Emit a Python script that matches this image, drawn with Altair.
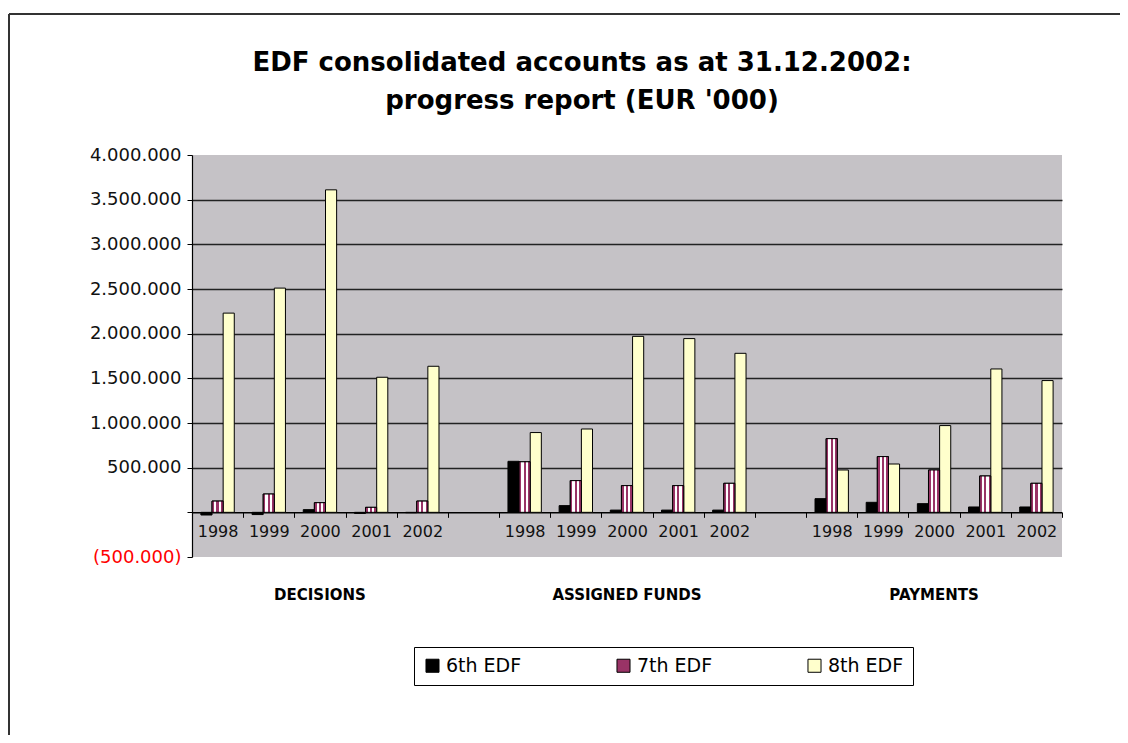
import altair as alt
import pandas as pd

groups = ["DECISIONS", "ASSIGNED FUNDS", "PAYMENTS"]
years = ["1998", "1999", "2000", "2001", "2002"]
series = ["6th EDF", "7th EDF", "8th EDF"]

decisions_6th = [-30000, -25000, 30000, -12000, -4000]
decisions_7th = [126000, 205000, 108000, 56000, 126000]
decisions_8th = [2230000, 2510000, 3610000, 1512000, 1635000]

assigned_6th = [571000, 75000, 25000, 25000, 25000]
assigned_7th = [566000, 355000, 299000, 299000, 325000]
assigned_8th = [893000, 933000, 1970000, 1945000, 1780000]

payments_6th = [153000, 112000, 97000, 60000, 60000]
payments_7th = [825000, 624000, 474000, 407000, 325000]
payments_8th = [474000, 541000, 971000, 1605000, 1475000]

y_ticks = [-500000, 0, 500000, 1000000, 1500000, 2000000, 2500000, 3000000, 3500000, 4000000]

group_values = [
    [decisions_6th, decisions_7th, decisions_8th],
    [assigned_6th, assigned_7th, assigned_8th],
    [payments_6th, payments_7th, payments_8th],
]

n_per_group = len(years) + 1  # one empty slot between groups
n_slots = len(groups) * n_per_group - 1

rows = []
for gi, g in enumerate(groups):
    for si, s in enumerate(series):
        for yi, yr in enumerate(years):
            rows.append({
                "group": g,
                "year": yr,
                "series": s,
                "value": group_values[gi][si][yi],
                "slot": gi * n_per_group + yi,
            })
df = pd.DataFrame(rows)

slot_labels = [""] * n_slots
for gi in range(len(groups)):
    for yi, yr in enumerate(years):
        slot_labels[gi * n_per_group + yi] = yr
label_js = "[" + ",".join("'" + s + "'" for s in slot_labels) + "]"

grp_df = pd.DataFrame({
    "group": groups,
    "slot": [gi * n_per_group + len(years) // 2 for gi in range(len(groups))],
})

W, H = 870, 402
FONT = "DejaVu Sans"

x_enc = alt.X(
    "slot:O",
    scale=alt.Scale(domain=list(range(n_slots)), paddingInner=0, paddingOuter=0),
    axis=alt.Axis(
        title=None,
        offset=-H * 0.5 / 4.5,
        labelExpr=label_js + "[datum.value]",
        labelAngle=0,
        labelFont=FONT,
        labelFontSize=16,
        labelColor="#111111",
        labelPadding=6,
        tickBand="extent",
        ticks=True,
        tickSize=5,
        tickColor="black",
        domainColor="black",
        domainWidth=1.5,
        grid=False,
    ),
)

y_enc = alt.Y(
    "value:Q",
    scale=alt.Scale(domain=[-500000, 4000000], nice=False, zero=False),
    axis=alt.Axis(
        title=None,
        values=y_ticks,
        labelExpr="datum.value == 0 ? '' : (datum.value < 0 ? '(' + replace(format(-datum.value, ','), regexp(',', 'g'), '.') + ')' : replace(format(datum.value, ','), regexp(',', 'g'), '.'))",
        labelColor={"expr": "datum.value < 0 ? '#ff0000' : '#111111'"},
        labelFont=FONT,
        labelFontSize=18,
        labelPadding=6,
        tickSize=5,
        tickColor="black",
        domainColor="black",
        domainWidth=1.2,
        grid=True,
        gridColor="#222222",
        gridWidth=1.3,
        gridOpacity={"expr": "datum.value > 0 && datum.value < 4000000 ? 1 : 0"},
    ),
)

xoff = alt.XOffset(
    "series:N",
    scale=alt.Scale(domain=series, paddingInner=0, paddingOuter=0.8),
)

bars = alt.Chart(df).mark_bar(stroke="black", strokeWidth=1).encode(
    x=x_enc,
    xOffset=xoff,
    y=y_enc,
    color=alt.Color(
        "series:N",
        scale=alt.Scale(domain=series, range=["#000000", "#993366", "#FFFFCC"]),
        legend=alt.Legend(
            title=None,
            orient="none",
            legendX=222,
            legendY=492,
            direction="horizontal",
            fillColor="white",
            strokeColor="black",
            padding=9,
            labelFont=FONT,
            labelFontSize=19,
            labelColor="black",
            labelOffset=4,
            symbolType="square",
            symbolSize=170,
            symbolStrokeColor="black",
            symbolStrokeWidth=1,
            columnPadding=92,
        ),
    ),
)

stripe = {
    "gradient": "linear",
    "x1": 0, "x2": 1, "y1": 0, "y2": 0,
    "stops": [
        {"offset": 0.0, "color": "#993366"},
        {"offset": 0.2, "color": "#993366"},
        {"offset": 0.2, "color": "#ffffff"},
        {"offset": 0.4, "color": "#ffffff"},
        {"offset": 0.4, "color": "#993366"},
        {"offset": 0.6, "color": "#993366"},
        {"offset": 0.6, "color": "#ffffff"},
        {"offset": 0.8, "color": "#ffffff"},
        {"offset": 0.8, "color": "#993366"},
        {"offset": 1.0, "color": "#993366"},
    ],
}

bars7 = alt.Chart(df).transform_filter(
    alt.datum.series == "7th EDF"
).mark_bar(fill=stripe, stroke="black", strokeWidth=1).encode(
    x=alt.X("slot:O"),
    xOffset=alt.XOffset("series:N"),
    y=alt.Y("value:Q"),
)

group_text = alt.Chart(grp_df).mark_text(
    font=FONT, fontSize=15, fontWeight="bold", color="black", baseline="middle"
).encode(
    x=alt.X("slot:O"),
    y=alt.value(H + 38),
    text="group:N",
)

frame_df = pd.DataFrame({"k": [0]})
frame_v = alt.Chart(frame_df).mark_rule(color="#333333", strokeWidth=2).encode(
    x=alt.value(-183), y=alt.value(-141), y2=alt.value(H + 300)
)
frame_h = alt.Chart(frame_df).mark_rule(color="#333333", strokeWidth=2).encode(
    x=alt.value(-183), x2=alt.value(W + 200), y=alt.value(-141)
)

chart = alt.layer(frame_v, frame_h, bars, bars7, group_text).properties(
    width=W,
    height=H,
    title=alt.TitleParams(
        text=["EDF consolidated accounts as at 31.12.2002:", "progress report (EUR '000)"],
        font=FONT,
        fontSize=26,
        fontWeight="bold",
        lineHeight=38,
        anchor="middle",
        frame="group",
        offset=-101,
        dx=-45,
        color="black",
    ),
    autosize=alt.AutoSizeParams(type="none"),
    padding={"left": 184, "top": 147, "right": 58, "bottom": 178},
).configure(
    background="white"
).configure_view(
    stroke=None, fill="#C5C2C6"
)

chart.save("out.html", embed_options={"renderer": "svg", "actions": False})
